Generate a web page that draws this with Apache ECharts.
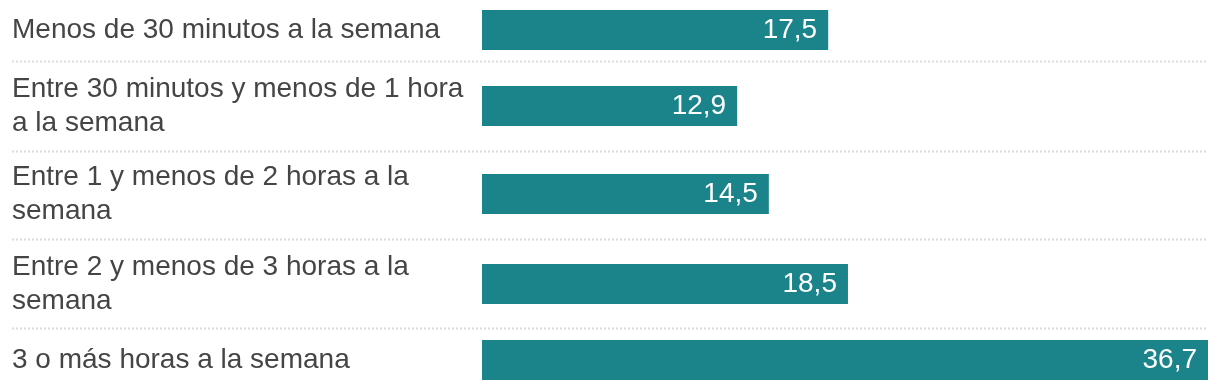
<!DOCTYPE html>
<html>
<head>
<meta charset="utf-8">
<script src="https://cdn.jsdelivr.net/npm/echarts@6/dist/echarts.min.js"></script>
<style>html,body{margin:0;padding:0;background:#fff}#c{width:1220px;height:390px}</style>
</head>
<body>
<div id="c"></div>
<script>
const categories = [
  "Menos de 30 minutos a la semana",
  "Entre 30 minutos y menos de 1 hora\na la semana",
  "Entre 1 y menos de 2 horas a la\nsemana",
  "Entre 2 y menos de 3 horas a la\nsemana",
  "3 o más horas a la semana"
];
const values = [17.5, 12.9, 14.5, 18.5, 36.7];

// layout (pixels): row boxes
const rowBottoms = [61, 151, 239, 328, 390];
const barCenters = [30, 106, 194, 284, 360];
const barH = 40;
const plotLeft = 482, plotRight = 12;
const xMax = 36.7;
const font = 'Liberation Sans, Arial, sans-serif';

const chart = echarts.init(document.getElementById('c'), null, {renderer: 'canvas'});
const grids = [], xAxes = [], yAxes = [], series = [];
categories.forEach((cat, i) => {
  grids.push({left: plotLeft, right: plotRight, top: barCenters[i] - barH / 2, height: barH, containLabel: false});
  xAxes.push({type: 'value', gridIndex: i, min: 0, max: xMax, show: false});
  yAxes.push({
    type: 'category', gridIndex: i, data: [cat],
    axisLine: {show: false}, axisTick: {show: false}, splitLine: {show: false},
    axisLabel: {
      align: 'left', margin: plotLeft - 12, fontSize: 28, color: '#454545',
      fontFamily: font, lineHeight: 34, padding: [4, 0, 0, 0]
    }
  });
  series.push({
    type: 'bar', xAxisIndex: i, yAxisIndex: i, data: [values[i]],
    barWidth: barH, itemStyle: {color: '#1b838a'}, silent: true,
    label: {
      show: true, position: 'insideRight', distance: 11, color: '#fff',
      fontSize: 28, fontFamily: font, padding: [3, 0, 0, 0],
      formatter: p => String(p.value).replace('.', ',')
    }
  });
});

const graphic = rowBottoms.slice(0, 4).map(y => ({
  type: 'line', silent: true,
  shape: {x1: 12, y1: y + 0.5, x2: 1208, y2: y + 0.5},
  style: {stroke: '#dcdcdc', lineWidth: 2, lineDash: [2, 2]}
}));

chart.setOption({
  animation: false,
  backgroundColor: '#fff',
  grid: grids, xAxis: xAxes, yAxis: yAxes, series: series,
  graphic: graphic
});
</script>
</body>
</html>
